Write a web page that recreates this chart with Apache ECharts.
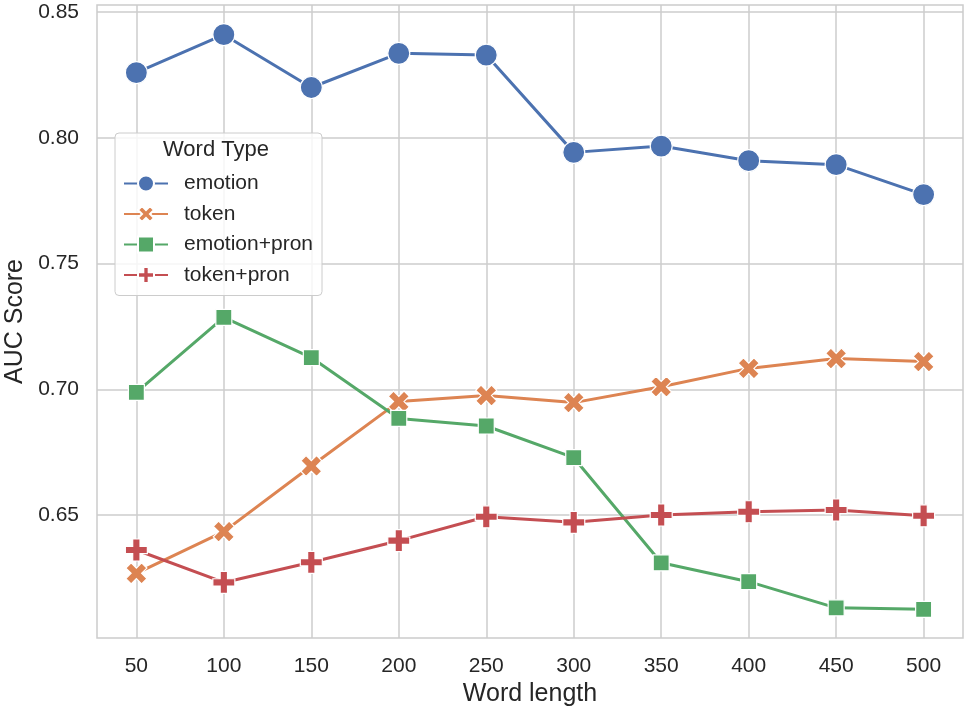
<!DOCTYPE html>
<html><head><meta charset="utf-8">
<script src="https://cdn.jsdelivr.net/npm/echarts@6/dist/echarts.min.js"></script>
<style>html,body{margin:0;padding:0;background:#fff}#c{width:967px;height:714px}</style>
</head><body><div id="c"></div>
<script>
const wordLengths = [50, 100, 150, 200, 250, 300, 350, 400, 450, 500];
const emotion = [0.8259, 0.8410, 0.8200, 0.8336, 0.8329, 0.7942, 0.7967, 0.7909, 0.7893, 0.7774];
const token = [0.6268, 0.6434, 0.6695, 0.6951, 0.6975, 0.6947, 0.7010, 0.7083, 0.7122, 0.7110];
const emotionPron = [0.6988, 0.7286, 0.7126, 0.6884, 0.6854, 0.6728, 0.6310, 0.6235, 0.6131, 0.6125];
const tokenPron = [0.6361, 0.6232, 0.6312, 0.6398, 0.6493, 0.6471, 0.6500, 0.6513, 0.6520, 0.6497];
const seriesNames = ['emotion', 'token', 'emotion+pron', 'token+pron'];
const xTicks = [50, 100, 150, 200, 250, 300, 350, 400, 450, 500];
const yTicks = [0.65, 0.70, 0.75, 0.80, 0.85];
const legendTitle = 'Word Type';

const colors = ['#4c72b0', '#dd8452', '#55a868', '#c44e52'];
const t = 0.25;
const xPath = 'path://M' + t + ' 0L0.5 ' + (0.5 - t) + 'L' + (1 - t) + ' 0L1 ' + t + 'L' + (0.5 + t) + ' 0.5L1 ' + (1 - t) + 'L' + (1 - t) + ' 1L0.5 ' + (0.5 + t) + 'L' + t + ' 1L0 ' + (1 - t) + 'L' + (0.5 - t) + ' 0.5L0 ' + t + 'Z';
const a = 1 / 3, b = 2 / 3;
const plusPath = 'path://M' + a + ' 0L' + b + ' 0L' + b + ' ' + a + 'L1 ' + a + 'L1 ' + b + 'L' + b + ' ' + b + 'L' + b + ' 1L' + a + ' 1L' + a + ' ' + b + 'L0 ' + b + 'L0 ' + a + 'L' + a + ' ' + a + 'Z';
const symbols = ['circle', xPath, 'rect', plusPath];
const sizes = [22, 21, 16, 22];
const datasets = [emotion, token, emotionPron, tokenPron];

const font = '"Liberation Sans", Arial, sans-serif';
const chart = echarts.init(document.getElementById('c'), null, {renderer: 'canvas'});

chart.setOption({
  backgroundColor: '#ffffff',
  animation: false,
  grid: {left: 97, top: 5, right: 4, bottom: 76, show: true, borderColor: '#cccccc', borderWidth: 1.5,
    backgroundColor: 'transparent', containLabel: false, outerBoundsMode: 'none'},
  xAxis: {
    type: 'value', min: 27.5, max: 522.5,
    name: 'Word length', nameLocation: 'middle', nameGap: 42,
    nameTextStyle: {fontFamily: font, fontSize: 25, color: '#262626'},
    axisLine: {show: false},
    axisTick: {show: false, customValues: xTicks},
    axisLabel: {customValues: xTicks, fontFamily: font, fontSize: 21, color: '#262626', margin: 18},
    splitLine: {show: true, lineStyle: {color: '#cccccc', width: 1.5}}
  },
  yAxis: {
    type: 'value', min: 0.6011, max: 0.8528,
    name: 'AUC Score', nameLocation: 'middle', nameGap: 65,
    nameTextStyle: {fontFamily: font, fontSize: 25, color: '#262626'},
    axisLine: {show: false},
    axisTick: {show: false, customValues: yTicks},
    axisLabel: {customValues: yTicks, fontFamily: font, fontSize: 21, color: '#262626', margin: 18,
      formatter: v => v.toFixed(2)},
    splitLine: {show: true, lineStyle: {color: '#cccccc', width: 1.5}}
  },
  legend: {
    orient: 'vertical', left: 115, top: 133,
    padding: [40, 9, 10, 8],
    itemWidth: 44, itemHeight: 20, itemGap: 9.5,
    backgroundColor: 'rgba(255,255,255,0.8)', borderColor: '#cccccc', borderWidth: 1, borderRadius: 4,
    textStyle: {fontFamily: font, fontSize: 21, color: '#262626', padding: [0, 0, 0, 11]},
    data: seriesNames
  },
  graphic: [{
    type: 'text', left: 163, top: 139, z: 100,
    style: {text: legendTitle, fontFamily: font, fontSize: 22, fill: '#262626'}
  }],
  series: seriesNames.map((n, i) => ({
    name: n, type: 'line',
    data: wordLengths.map((x, j) => [x, datasets[i][j]]),
    symbol: symbols[i], symbolSize: sizes[i],
    showAllSymbol: true,
    lineStyle: {color: colors[i], width: 3},
    itemStyle: {color: colors[i], borderColor: '#ffffff', borderWidth: 1.2},
    emphasis: {disabled: true},
    z: 2 + i
  }))
});
</script></body></html>
